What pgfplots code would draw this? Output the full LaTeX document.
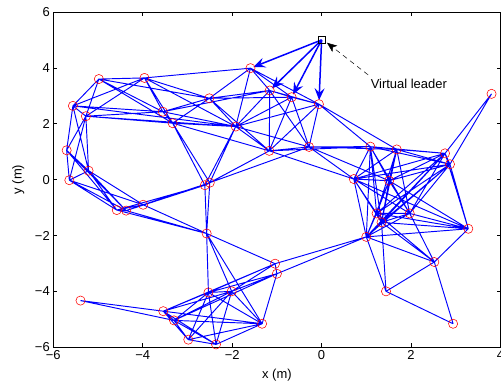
\documentclass[border=0pt]{standalone}
\usepackage{fontspec}
\setmainfont{Liberation Sans}
\usepackage{pgfplots}
\pgfplotsset{compat=1.18}
\usetikzlibrary{arrows.meta}
\begin{document}
\begin{tikzpicture}
\begin{axis}[name=ax, scale only axis, width=447bp, height=335bp,
 xmin=-6, xmax=4, ymin=-6, ymax=6,
 xtick={-6,-4,-2,0,2,4}, xticklabels={−6,−4,−2,0,2,4},
 ytick={-6,-4,-2,0,2,4,6}, yticklabels={−6,−4,−2,0,2,4,6},
 tick align=inside, major tick length=4bp,
 tick style={black, line width=0.5pt},
 axis line style={black, line width=0.7pt},
 tick label style={font=\fontsize{13}{15}\selectfont},
 label style={font=\fontsize{13}{15}\selectfont},
 xlabel={x (m)}, ylabel={y (m)},
 xlabel style={at={(axis description cs:0.5,-0.084)}, anchor=center},
 ylabel style={at={(axis description cs:-0.078,0.5)}, anchor=center},
 unbounded coords=jump]
% edges, cluster A
\addplot[blue, line width=0.95pt] coordinates {
(-4.98,3.60) (-3.96,3.64) (nan,nan)
(-4.98,3.60) (-5.56,2.64) (nan,nan)
(-4.98,3.60) (-5.27,2.27) (nan,nan)
(-4.98,3.60) (-3.55,2.43) (nan,nan)
(-4.98,3.60) (-3.33,2.02) (nan,nan)
(-4.98,3.60) (-2.51,2.91) (nan,nan)
(-3.96,3.64) (-1.59,3.99) (nan,nan)
(-3.96,3.64) (-2.51,2.91) (nan,nan)
(-3.96,3.64) (-3.55,2.43) (nan,nan)
(-3.96,3.64) (-3.33,2.02) (nan,nan)
(-3.96,3.64) (-5.56,2.64) (nan,nan)
(-3.96,3.64) (-5.27,2.27) (nan,nan)
(-3.96,3.64) (-1.92,1.90) (nan,nan)
(-1.59,3.99) (-1.16,3.19) (nan,nan)
(-1.59,3.99) (-0.67,2.95) (nan,nan)
(-1.59,3.99) (-0.06,2.70) (nan,nan)
(-1.59,3.99) (-2.51,2.91) (nan,nan)
(-1.59,3.99) (-1.92,1.90) (nan,nan)
(-1.16,3.19) (-0.67,2.95) (nan,nan)
(-1.16,3.19) (-0.06,2.70) (nan,nan)
(-1.16,3.19) (-2.51,2.91) (nan,nan)
(-1.16,3.19) (-1.92,1.90) (nan,nan)
(-1.16,3.19) (-1.17,1.03) (nan,nan)
(-1.16,3.19) (-0.28,1.17) (nan,nan)
(-1.16,3.19) (-3.55,2.43) (nan,nan)
(-0.67,2.95) (-0.06,2.70) (nan,nan)
(-0.67,2.95) (-2.51,2.91) (nan,nan)
(-0.67,2.95) (-1.92,1.90) (nan,nan)
(-0.67,2.95) (-1.17,1.03) (nan,nan)
(-0.67,2.95) (-0.28,1.17) (nan,nan)
(-0.06,2.70) (-1.92,1.90) (nan,nan)
(-0.06,2.70) (-1.17,1.03) (nan,nan)
(-0.06,2.70) (-0.28,1.17) (nan,nan)
(-0.06,2.70) (1.09,1.18) (nan,nan)
(-0.06,2.70) (1.68,1.08) (nan,nan)
(-2.51,2.91) (-3.55,2.43) (nan,nan)
(-2.51,2.91) (-3.33,2.02) (nan,nan)
(-2.51,2.91) (-1.92,1.90) (nan,nan)
(-2.51,2.91) (-1.17,1.03) (nan,nan)
(-3.55,2.43) (-3.33,2.02) (nan,nan)
(-3.55,2.43) (-5.56,2.64) (nan,nan)
(-3.55,2.43) (-5.27,2.27) (nan,nan)
(-3.55,2.43) (-1.92,1.90) (nan,nan)
(-3.33,2.02) (-5.27,2.27) (nan,nan)
(-3.33,2.02) (-1.92,1.90) (nan,nan)
(-3.33,2.02) (-1.17,1.03) (nan,nan)
(-3.33,2.02) (-2.61,-0.20) (nan,nan)
(-3.33,2.02) (-2.50,-0.11) (nan,nan)
(-5.56,2.64) (-5.27,2.27) (nan,nan)
(-5.56,2.64) (-5.70,1.05) (nan,nan)
(-5.56,2.64) (-5.21,0.32) (nan,nan)
(-5.56,2.64) (-1.92,1.90) (nan,nan)
(-5.27,2.27) (-5.70,1.05) (nan,nan)
(-5.27,2.27) (-5.21,0.32) (nan,nan)
(-5.27,2.27) (-5.64,-0.02) (nan,nan)
(-5.27,2.27) (-1.92,1.90) (nan,nan)
(-1.92,1.90) (-1.17,1.03) (nan,nan)
(-1.92,1.90) (-0.28,1.17) (nan,nan)
(-1.92,1.90) (-2.61,-0.20) (nan,nan)
(-1.92,1.90) (-2.50,-0.11) (nan,nan)
(-1.17,1.03) (-0.28,1.17) (nan,nan)
(-1.17,1.03) (-2.61,-0.20) (nan,nan)
(-1.17,1.03) (-2.50,-0.11) (nan,nan)
(-1.17,1.03) (0.72,0.02) (nan,nan)
(-1.17,1.03) (1.09,1.18) (nan,nan)
(-0.28,1.17) (0.72,0.02) (nan,nan)
(-0.28,1.17) (1.09,1.18) (nan,nan)
(-0.28,1.17) (1.68,1.08) (nan,nan)
(-0.28,1.17) (1.51,-0.04) (nan,nan)
(-0.28,1.17) (-2.50,-0.11) (nan,nan)
(-5.70,1.05) (-5.21,0.32) (nan,nan)
(-5.70,1.05) (-5.64,-0.02) (nan,nan)
(-5.70,1.05) (-4.58,-1.09) (nan,nan)
(-5.70,1.05) (-4.37,-1.11) (nan,nan)
(-5.21,0.32) (-5.64,-0.02) (nan,nan)
(-5.21,0.32) (-4.58,-1.09) (nan,nan)
(-5.21,0.32) (-4.37,-1.11) (nan,nan)
(-5.21,0.32) (-3.99,-0.90) (nan,nan)
(-5.64,-0.02) (-4.58,-1.09) (nan,nan)
(-5.64,-0.02) (-4.37,-1.11) (nan,nan)
(-5.64,-0.02) (-3.99,-0.90)
};
% edges, cluster B
\addplot[blue, line width=0.95pt] coordinates {
(-4.58,-1.09) (-4.37,-1.11) (nan,nan)
(-4.58,-1.09) (-3.99,-0.90) (nan,nan)
(-4.37,-1.11) (-3.99,-0.90) (nan,nan)
(-4.58,-1.09) (-2.61,-0.20) (nan,nan)
(-4.37,-1.11) (-2.61,-0.20) (nan,nan)
(-4.37,-1.11) (-2.50,-0.11) (nan,nan)
(-3.99,-0.90) (-2.61,-0.20) (nan,nan)
(-3.99,-0.90) (-2.50,-0.11) (nan,nan)
(-2.61,-0.20) (-2.50,-0.11) (nan,nan)
(-2.61,-0.20) (-2.57,-1.93) (nan,nan)
(-2.50,-0.11) (-2.57,-1.93) (nan,nan)
(-4.58,-1.09) (-2.57,-1.93) (nan,nan)
(-4.37,-1.11) (-2.57,-1.93) (nan,nan)
(-3.99,-0.90) (-2.57,-1.93) (nan,nan)
(-2.57,-1.93) (-2.53,-4.04) (nan,nan)
(-2.57,-1.93) (-2.01,-4.00) (nan,nan)
(-2.57,-1.93) (-1.04,-3.01) (nan,nan)
(-2.57,-1.93) (-1.33,-5.16)
};
% edges, cluster C
\addplot[blue, line width=0.95pt] coordinates {
(-1.04,-3.01) (-1.00,-3.37) (nan,nan)
(-1.04,-3.01) (-2.53,-4.04) (nan,nan)
(-1.04,-3.01) (-2.01,-4.00) (nan,nan)
(-1.00,-3.37) (-2.53,-4.04) (nan,nan)
(-1.00,-3.37) (-2.01,-4.00) (nan,nan)
(-1.00,-3.37) (-1.33,-5.16) (nan,nan)
(-1.04,-3.01) (-3.54,-4.71) (nan,nan)
(-1.00,-3.37) (-3.30,-5.04) (nan,nan)
(-1.04,-3.01) (1.00,-2.05) (nan,nan)
(-1.00,-3.37) (1.00,-2.05) (nan,nan)
(-2.53,-4.04) (-2.01,-4.00) (nan,nan)
(-2.53,-4.04) (-1.33,-5.16) (nan,nan)
(-2.53,-4.04) (-2.36,-5.90) (nan,nan)
(-2.53,-4.04) (-3.54,-4.71) (nan,nan)
(-2.53,-4.04) (-3.30,-5.04) (nan,nan)
(-2.53,-4.04) (-2.98,-5.73) (nan,nan)
(-2.01,-4.00) (-1.33,-5.16) (nan,nan)
(-2.01,-4.00) (-2.36,-5.90) (nan,nan)
(-2.01,-4.00) (-3.54,-4.71) (nan,nan)
(-2.01,-4.00) (-3.30,-5.04) (nan,nan)
(-2.01,-4.00) (-2.98,-5.73) (nan,nan)
(-1.33,-5.16) (-2.36,-5.90) (nan,nan)
(-1.33,-5.16) (-3.54,-4.71) (nan,nan)
(-1.33,-5.16) (-3.30,-5.04) (nan,nan)
(-1.33,-5.16) (-2.98,-5.73) (nan,nan)
(-2.36,-5.90) (-3.54,-4.71) (nan,nan)
(-2.36,-5.90) (-3.30,-5.04) (nan,nan)
(-2.36,-5.90) (-2.98,-5.73) (nan,nan)
(-5.39,-4.33) (-3.54,-4.71) (nan,nan)
(-5.39,-4.33) (-3.30,-5.04) (nan,nan)
(-3.54,-4.71) (-3.30,-5.04) (nan,nan)
(-3.54,-4.71) (-2.98,-5.73) (nan,nan)
(-3.30,-5.04) (-2.98,-5.73)
};
% edges, cluster D
\addplot[blue, line width=0.95pt] coordinates {
(0.72,0.02) (1.09,1.18) (nan,nan)
(0.72,0.02) (1.68,1.08) (nan,nan)
(0.72,0.02) (2.76,0.94) (nan,nan)
(0.72,0.02) (2.87,0.55) (nan,nan)
(0.72,0.02) (1.51,-0.04) (nan,nan)
(0.72,0.02) (1.23,-1.21) (nan,nan)
(0.72,0.02) (1.34,-1.53) (nan,nan)
(0.72,0.02) (1.97,-1.21) (nan,nan)
(0.72,0.02) (1.00,-2.05) (nan,nan)
(0.72,0.02) (3.28,-1.76) (nan,nan)
(1.09,1.18) (1.68,1.08) (nan,nan)
(1.09,1.18) (2.76,0.94) (nan,nan)
(1.09,1.18) (2.87,0.55) (nan,nan)
(1.09,1.18) (1.51,-0.04) (nan,nan)
(1.09,1.18) (1.23,-1.21) (nan,nan)
(1.09,1.18) (1.34,-1.53) (nan,nan)
(1.09,1.18) (1.97,-1.21) (nan,nan)
(1.09,1.18) (1.00,-2.05) (nan,nan)
(1.68,1.08) (2.76,0.94) (nan,nan)
(1.68,1.08) (2.87,0.55) (nan,nan)
(1.68,1.08) (1.51,-0.04) (nan,nan)
(1.68,1.08) (1.23,-1.21) (nan,nan)
(1.68,1.08) (1.34,-1.53) (nan,nan)
(1.68,1.08) (1.97,-1.21) (nan,nan)
(2.76,0.94) (2.87,0.55) (nan,nan)
(2.76,0.94) (1.51,-0.04) (nan,nan)
(2.76,0.94) (1.23,-1.21) (nan,nan)
(2.76,0.94) (1.34,-1.53) (nan,nan)
(2.76,0.94) (1.97,-1.21) (nan,nan)
(2.76,0.94) (1.00,-2.05) (nan,nan)
(2.76,0.94) (3.28,-1.76) (nan,nan)
(2.76,0.94) (3.80,3.07) (nan,nan)
(2.87,0.55) (3.80,3.07) (nan,nan)
(2.87,0.55) (1.51,-0.04) (nan,nan)
(2.87,0.55) (1.23,-1.21) (nan,nan)
(2.87,0.55) (1.34,-1.53) (nan,nan)
(2.87,0.55) (1.97,-1.21) (nan,nan)
(2.87,0.55) (3.28,-1.76) (nan,nan)
(2.87,0.55) (1.00,-2.05) (nan,nan)
(1.51,-0.04) (1.23,-1.21) (nan,nan)
(1.51,-0.04) (1.34,-1.53) (nan,nan)
(1.51,-0.04) (1.97,-1.21) (nan,nan)
(1.51,-0.04) (3.28,-1.76) (nan,nan)
(1.51,-0.04) (1.00,-2.05) (nan,nan)
(1.23,-1.21) (1.34,-1.53) (nan,nan)
(1.23,-1.21) (1.97,-1.21) (nan,nan)
(1.23,-1.21) (3.28,-1.76) (nan,nan)
(1.23,-1.21) (1.00,-2.05) (nan,nan)
(1.23,-1.21) (2.52,-2.95) (nan,nan)
(1.34,-1.53) (1.97,-1.21) (nan,nan)
(1.34,-1.53) (3.28,-1.76) (nan,nan)
(1.34,-1.53) (1.00,-2.05) (nan,nan)
(1.34,-1.53) (2.52,-2.95) (nan,nan)
(1.34,-1.53) (1.44,-4.00) (nan,nan)
(1.97,-1.21) (3.28,-1.76) (nan,nan)
(1.97,-1.21) (1.00,-2.05) (nan,nan)
(1.97,-1.21) (2.52,-2.95) (nan,nan)
(3.28,-1.76) (1.00,-2.05) (nan,nan)
(3.28,-1.76) (2.52,-2.95) (nan,nan)
(1.00,-2.05) (2.52,-2.95) (nan,nan)
(1.00,-2.05) (1.44,-4.00) (nan,nan)
(2.52,-2.95) (1.44,-4.00) (nan,nan)
(2.52,-2.95) (2.94,-5.16) (nan,nan)
(1.44,-4.00) (2.94,-5.16)
};
% leader arrows
\addplot[blue, line width=1.5pt, -{Stealth[length=12pt,width=10pt,inset=4.5pt]}, shorten >=3bp] coordinates {(0,5) (-1.59,3.99)};
\addplot[blue, line width=1.5pt, -{Stealth[length=12pt,width=10pt,inset=4.5pt]}, shorten >=3bp] coordinates {(0,5) (-1.16,3.19)};
\addplot[blue, line width=1.5pt, -{Stealth[length=12pt,width=10pt,inset=4.5pt]}, shorten >=3bp] coordinates {(0,5) (-0.67,2.95)};
\addplot[blue, line width=1.5pt, -{Stealth[length=12pt,width=10pt,inset=4.5pt]}, shorten >=4bp] coordinates {(0,5) (-0.06,2.70)};
% agents
\addplot[only marks, mark=o, mark size=4.6bp, red, line width=0.55pt] coordinates {
(-4.98,3.60) (-3.96,3.64) (-1.59,3.99) (-1.16,3.19) (-0.67,2.95) (-0.06,2.70)
(-2.51,2.91) (-3.55,2.43) (-3.33,2.02) (-5.56,2.64) (-5.27,2.27) (-1.92,1.90)
(-1.17,1.03) (-0.28,1.17) (-5.70,1.05) (-5.21,0.32) (-5.64,-0.02)
(-4.58,-1.09) (-4.37,-1.11) (-3.99,-0.90) (-2.61,-0.20) (-2.50,-0.11) (-2.57,-1.93)
(0.72,0.02) (1.09,1.18) (1.68,1.08) (2.76,0.94) (2.87,0.55) (1.51,-0.04)
(1.23,-1.21) (1.34,-1.53) (1.97,-1.21) (3.28,-1.76) (1.00,-2.05) (3.80,3.07)
(2.52,-2.95) (1.44,-4.00) (2.94,-5.16)
(-1.04,-3.01) (-1.00,-3.37) (-2.53,-4.04) (-2.01,-4.00) (-1.33,-5.16) (-2.36,-5.90)
(-5.39,-4.33) (-3.54,-4.71) (-3.30,-5.04) (-2.98,-5.73)
};
% virtual leader
\addplot[only marks, mark=square, mark size=3.4bp, black, line width=0.6pt] coordinates {(0,5)};
\draw[black, line width=0.5pt, dash pattern=on 5pt off 4pt, -{Stealth[length=10pt,width=8pt,inset=2.5pt]}] (axis cs:1.04,3.75) -- (axis cs:0.12,4.90);
\node[font=\fontsize{13}{15}\selectfont] at (axis cs:1.95,3.43) {Virtual leader};
\end{axis}
\pgfresetboundingbox
\path[use as bounding box] ([xshift=-53.2bp,yshift=-38bp]ax.south west) rectangle ([xshift=0.5bp,yshift=12bp]ax.north east);
\end{tikzpicture}
\end{document}
